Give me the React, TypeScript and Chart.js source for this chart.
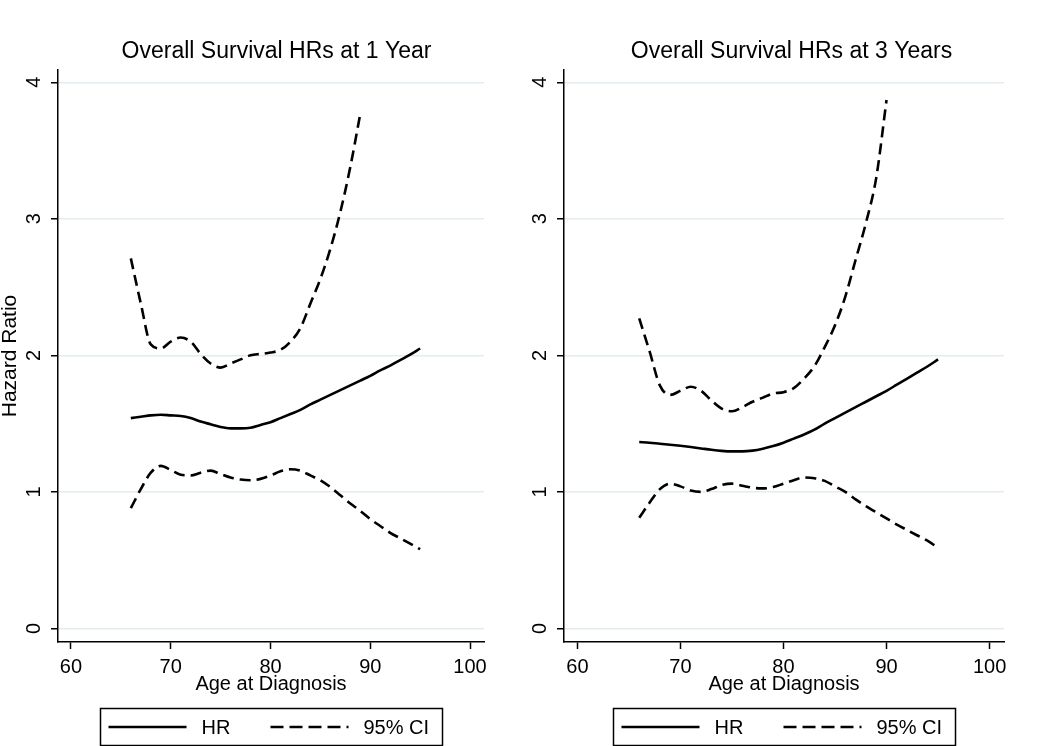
import React, { useEffect, useRef } from 'react';
import { Chart, registerables } from 'chart.js';

Chart.register(...registerables);

const FONT = "'Liberation Sans', Arial, sans-serif";

const ages = [66, 67, 68, 69, 70, 71, 72, 73, 74, 75, 76, 77, 78, 79, 80, 81, 82, 83, 84, 85, 86, 87, 88, 89, 90, 91, 92, 93, 94, 95];

// Panel 1: 1 year
const hr1 = [1.54, 1.55, 1.56, 1.565, 1.56, 1.555, 1.54, 1.515, 1.495, 1.475, 1.465, 1.465, 1.47, 1.49, 1.51, 1.54, 1.57, 1.6, 1.64, 1.675, 1.71, 1.745, 1.78, 1.815, 1.85, 1.89, 1.925, 1.965, 2.005, 2.05];
const upper1 = [2.71, 2.38, 2.08, 2.05, 2.1, 2.13, 2.1, 2.01, 1.94, 1.91, 1.94, 1.97, 2.0, 2.01, 2.02, 2.04, 2.1, 2.2, 2.38, 2.56, 2.78, 3.05, 3.38, 3.77, null, null, null, null, null, null];
const lower1 = [0.88, 1.02, 1.14, 1.19, 1.16, 1.125, 1.12, 1.14, 1.155, 1.13, 1.105, 1.09, 1.085, 1.095, 1.12, 1.15, 1.165, 1.155, 1.12, 1.085, 1.035, 0.975, 0.915, 0.86, 0.8, 0.75, 0.7, 0.66, 0.62, 0.58];

// Panel 2: 3 years
const hr3 = [1.365, 1.36, 1.352, 1.345, 1.337, 1.328, 1.318, 1.308, 1.3, 1.296, 1.296, 1.302, 1.316, 1.335, 1.36, 1.39, 1.42, 1.455, 1.5, 1.54, 1.58, 1.62, 1.66, 1.7, 1.74, 1.785, 1.83, 1.875, 1.92, 1.97];
const upper3 = [2.27, 2.03, 1.78, 1.71, 1.74, 1.77, 1.74, 1.67, 1.61, 1.59, 1.62, 1.66, 1.69, 1.72, 1.73, 1.76, 1.83, 1.92, 2.06, 2.22, 2.43, 2.7, 2.97, 3.3, 3.87, null, null, null, null, null];
const lower3 = [0.81, 0.92, 1.02, 1.06, 1.04, 1.01, 1.0, 1.02, 1.05, 1.06, 1.045, 1.03, 1.025, 1.035, 1.06, 1.085, 1.105, 1.1, 1.08, 1.04, 1.0, 0.945, 0.895, 0.85, 0.805, 0.76, 0.72, 0.68, 0.64, 0.59];

const xTicks = [60, 70, 80, 90, 100];
const yTicks = [0, 1, 2, 3, 4];
const titles = ['Overall Survival HRs at 1 Year', 'Overall Survival HRs at 3 Years'];
const xTitle = 'Age at Diagnosis';
const yTitle = 'Hazard Ratio';
const hrLabel = 'HR';
const ciLabel = '95% CI';

const LINE_W = 2.6;
const CHART_DASH = [11, 6];
const LEGEND_DASH = [13, 6];

function toPoints(vals: (number | null)[]) {
  const pts: { x: number; y: number }[] = [];
  ages.forEach((a, i) => {
    const v = vals[i];
    if (v !== null && v !== undefined) pts.push({ x: a, y: v });
  });
  return pts;
}

const decorPlugin = {
  id: 'panelDecor',
  afterDraw(chart: any, _args: any, opts: any) {
    const { ctx, chartArea } = chart;
    const cx = (chartArea.left + chartArea.right) / 2;
    ctx.save();
    ctx.fillStyle = '#000';
    ctx.font = `23px ${FONT}`;
    ctx.textAlign = 'center';
    ctx.textBaseline = 'middle';
    ctx.fillText(opts.title, cx + opts.titleShift, opts.titleY);

    // legend box
    const w = opts.boxWidth;
    const left = Math.round(cx - w / 2) + 0.5;
    const top = opts.legendTop + 0.5;
    const h = opts.legendHeight;
    ctx.lineWidth = 1.5;
    ctx.strokeStyle = '#000';
    ctx.setLineDash([]);
    ctx.strokeRect(left, top, w, h);
    const my = top + h / 2;
    const ds = chart.data.datasets;
    const items = [ds[0], ds[1]];
    const lineStarts = [8, 170];
    const textStarts = [101, 263];
    ctx.font = `20px ${FONT}`;
    items.forEach((d: any, i: number) => {
      ctx.beginPath();
      ctx.lineWidth = LINE_W;
      ctx.setLineDash(d.borderDash && d.borderDash.length ? LEGEND_DASH : []);
      ctx.moveTo(left + lineStarts[i], my);
      ctx.lineTo(left + lineStarts[i] + 78, my);
      ctx.stroke();
      ctx.setLineDash([]);
      ctx.textAlign = 'left';
      ctx.textBaseline = 'middle';
      ctx.fillText(d.label, left + textStarts[i], my + 1);
    });
    ctx.restore();
  },
};

function Panel({ idx, hr, upper, lower, showYTitle, yWidth, padRight, titleShift }: any) {
  const ref = useRef<HTMLCanvasElement | null>(null);
  useEffect(() => {
    if (!ref.current) return;
    const common = {
      borderColor: '#000',
      borderWidth: LINE_W,
      pointRadius: 0,
      fill: false,
      cubicInterpolationMode: 'monotone',
    };
    const chart = new Chart(ref.current, {
      type: 'line',
      data: {
        datasets: [
          { ...common, label: hrLabel, data: toPoints(hr) },
          { ...common, label: ciLabel, data: toPoints(upper), borderDash: CHART_DASH },
          { ...common, label: ciLabel, data: toPoints(lower), borderDash: CHART_DASH },
        ],
      },
      options: {
        animation: false,
        responsive: false,
        events: [],
        layout: { padding: { left: 0, right: padRight, top: 70, bottom: 50 } },
        plugins: {
          legend: { display: false },
          tooltip: { enabled: false },
          title: { display: false },
          panelDecor: {
            title: titles[idx],
            titleShift,
            titleY: 52,
            boxWidth: 342,
            legendTop: 708,
            legendHeight: 37,
          },
        } as any,
        scales: {
          x: {
            type: 'linear',
            min: 58.7,
            max: 101.4,
            afterBuildTicks: (s: any) => {
              s.ticks = xTicks.map((v) => ({ value: v }));
            },
            afterFit: (s: any) => {
              s.height = 54;
            },
            grid: { drawOnChartArea: false, drawTicks: true, tickLength: 7, tickColor: '#000', tickWidth: 1.5 },
            border: { color: '#000', width: 1.5 },
            ticks: { color: '#000', font: { family: FONT, size: 20 }, padding: 6, maxRotation: 0, autoSkip: false },
            title: { display: true, text: xTitle, color: '#000', font: { family: FONT, size: 20, lineHeight: 1.2 }, padding: 0 },
          },
          y: {
            type: 'linear',
            min: -0.1,
            max: 4.09,
            afterBuildTicks: (s: any) => {
              s.ticks = yTicks.map((v) => ({ value: v }));
            },
            afterFit: (s: any) => {
              s.width = yWidth;
            },
            grid: { color: '#e3ecf0', lineWidth: 1.5, drawTicks: true, tickLength: 7, tickColor: '#000', tickWidth: 1.5 },
            border: { color: '#000', width: 1.5 },
            ticks: { color: '#000', font: { family: FONT, size: 20 }, minRotation: 90, maxRotation: 90, crossAlign: 'center', padding: 11 },
            title: { display: showYTitle, text: yTitle, color: '#000', font: { family: FONT, size: 21, lineHeight: 1.0 }, padding: 0 },
          },
        },
      } as any,
      plugins: [decorPlugin],
    });
    return () => chart.destroy();
  }, []);
  return <canvas ref={ref} width={525} height={746} style={{ display: 'block', width: 525, height: 746 }} />;
}

export default function App() {
  return (
    <div style={{ position: 'absolute', left: 0, top: 0, width: 1050, height: 746, background: '#fff', overflow: 'hidden' }}>
      <div style={{ position: 'absolute', left: 0, top: 0 }}>
        <Panel idx={0} hr={hr1} upper={upper1} lower={lower1} showYTitle={true} yWidth={58} padRight={41} titleShift={5.5} />
      </div>
      <div style={{ position: 'absolute', left: 525, top: 0 }}>
        <Panel idx={1} hr={hr3} upper={upper3} lower={lower3} showYTitle={false} yWidth={39} padRight={46} titleShift={7.5} />
      </div>
    </div>
  );
}
